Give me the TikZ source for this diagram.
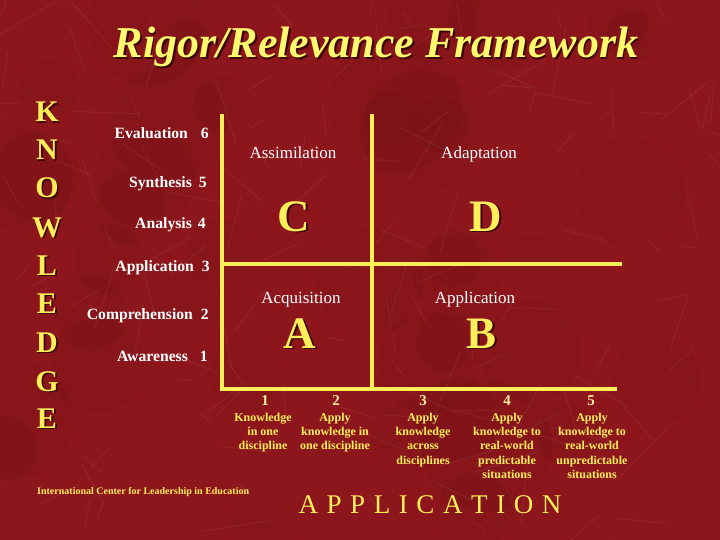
\documentclass[tikz,border=0pt]{standalone}
\usepackage{fontspec}
\setmainfont{Liberation Serif}
\definecolor{bg}{RGB}{140,22,27}
\definecolor{yel}{RGB}{255,238,90}
\definecolor{ttl}{RGB}{255,250,110}
\definecolor{cream}{RGB}{255,236,160}
\definecolor{shade}{RGB}{60,5,8}
\newcommand{\fsz}[1]{\fontsize{#1}{#1}\selectfont}
\newcommand{\shd}[1]{\rlap{\kern1.6pt\raisebox{-1.6pt}{\color{shade}#1}}#1}
\begin{document}
\begin{tikzpicture}[x=1pt,y=-1pt,
  gridline/.style={draw=yel,line width=3.5pt},
  ttlstyle/.style={font=\bfseries\itshape\fsz{44},text=ttl,anchor=base,inner sep=0pt},
  vletter/.style={font=\bfseries\fsz{30},text=yel,anchor=base,inner sep=0pt},
  lvl/.style={font=\bfseries\fsz{15.7},text=white,anchor=base east,inner sep=0pt},
  quad/.style={font=\fsz{17},text=white,anchor=base,inner sep=0pt},
  bigl/.style={font=\bfseries\fsz{45},text=yel,anchor=base,inner sep=0pt},
  axnum/.style={font=\bfseries\fsz{15},text=cream,anchor=base,inner sep=0pt},
  desc/.style={font=\bfseries\fontsize{12}{14.3}\selectfont,text=yel,align=center,anchor=north,inner sep=0pt},
  foot/.style={font=\bfseries\fsz{10},text=yel,anchor=base west,inner sep=0pt},
  axtitle/.style={font=\fsz{27},text=yel,anchor=base,inner sep=0pt}]
\useasboundingbox (0,0) rectangle (720,540);
% background
\fill[bg] (0,0) rectangle (720,540);
\pgfmathsetseed{11}
\foreach \i in {1,...,40}{
  \pgfmathsetmacro\xa{rnd*720}\pgfmathsetmacro\ya{rnd*540}\pgfmathsetmacro\rr{20+rnd*50}
  \fill[black,opacity=0.035] (\xa,\ya) circle[radius=\rr];
}
\foreach \i in {1,...,140}{
  \pgfmathsetmacro\xa{rnd*720}\pgfmathsetmacro\ya{rnd*540}\pgfmathsetmacro\ang{rnd*360}\pgfmathsetmacro\len{15+rnd*55}
  \draw[white,opacity=0.05,line width=1.2pt] (\xa,\ya) -- ++(\ang:\len);
}
% title
\node[ttlstyle] (title) at (376,58) {\shd{Rigor/Relevance Framework}};
% KNOWLEDGE
\node[vletter] (k1) at (47,122) {\shd{K}};
\node[vletter] (k2) at (47,160) {\shd{N}};
\node[vletter] (k3) at (47,198) {\shd{O}};
\node[vletter] (k4) at (47,237) {\shd{W}};
\node[vletter] (k5) at (47,275) {\shd{L}};
\node[vletter] (k6) at (47,313) {\shd{E}};
\node[vletter] (k7) at (47,352) {\shd{D}};
\node[vletter] (k8) at (47,391) {\shd{G}};
\node[vletter] (k9) at (47,428) {\shd{E}};
% levels
\node[lvl] (l6) at (209,139) {Evaluation\hspace{13pt}6};
\node[lvl] (l5) at (207,188) {Synthesis\hspace{7pt}5};
\node[lvl] (l4) at (206,229) {Analysis\hspace{6pt}4};
\node[lvl] (l3) at (210,271) {Application\hspace{8pt}3};
\node[lvl] (l2) at (209,319) {Comprehension\hspace{8pt}2};
\node[lvl] (l1) at (208,361) {Awareness\hspace{12pt}1};
% grid
\coordinate (tl) at (222,114);
\coordinate (bl) at (222,389);
\coordinate (br) at (617,389);
\coordinate (tm) at (372,114);
\coordinate (bm) at (372,389);
\coordinate (ml) at (222,264);
\coordinate (mr) at (622,264);
\draw[gridline] (tl) -- (bl) -- (br);
\draw[gridline] (tm) -- (bm);
\draw[gridline] (ml) -- (mr);
% quadrants
\node[quad] (qc) at (293,159) {Assimilation};
\node[quad] (qd) at (479,159) {Adaptation};
\node[quad] (qa) at (301,303) {Acquisition};
\node[quad] (qb) at (475,303) {Application};
\node[bigl] (bc) at (294,231) {\shd{C}};
\node[bigl] (bd) at (486,231) {\shd{D}};
\node[bigl] (ba) at (300,348) {\shd{A}};
\node[bigl] (bb) at (482,348) {\shd{B}};
% axis
\node[axnum] (n1) at (265,405) {1};
\node[axnum] (n2) at (336,405) {2};
\node[axnum] (n3) at (423,405) {3};
\node[axnum] (n4) at (507,405) {4};
\node[axnum] (n5) at (591,405) {5};
\node[desc] (d1) at (263,412.8) {Knowledge\\in one\\discipline};
\node[desc] (d2) at (335,412.8) {Apply\\knowledge in\\one discipline};
\node[desc] (d3) at (423,412.8) {Apply\\knowledge\\across\\disciplines};
\node[desc] (d4) at (507,412.8) {Apply\\knowledge to\\real-world\\predictable\\situations};
\node[desc] (d5) at (592,412.8) {Apply\\knowledge to\\real-world\\unpredictable\\situations};
\node[foot] (icle) at (37,494) {International Center for Leadership in Education};
\node[axtitle] (app) at (430,513) {A\kern8.6pt P\kern8.6pt P\kern8.6pt L\kern8.6pt I\kern8.6pt C\kern8.6pt A\kern8.6pt T\kern8.6pt I\kern8.6pt O\kern8.6pt N};
\end{tikzpicture}
\end{document}
